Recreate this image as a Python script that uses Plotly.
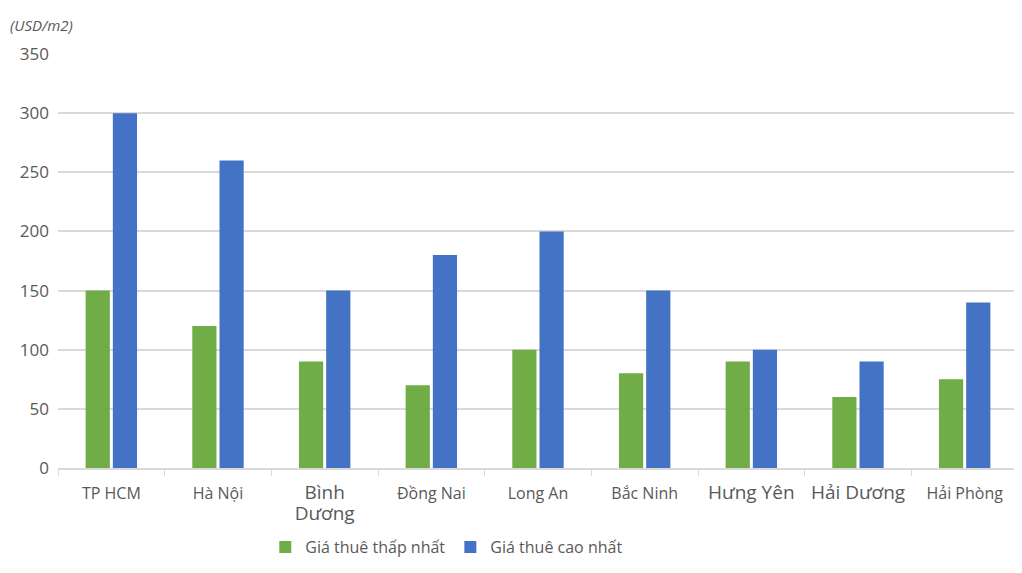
import plotly.graph_objects as go

# tinh/thanh pho va gia thue dat KCN
provinces = ['TP HCM', 'Hà Nội', 'Bình Dương', 'Đồng Nai', 'Long An',
             'Bắc Ninh', 'Hưng Yên', 'Hải Dương', 'Hải Phòng']
big = '<span style="font-size:19px">%s</span>'
tick_labels = ['TP HCM', 'Hà Nội',
               big % 'Bình' + '<br>' + big % 'Dương',
               'Đồng Nai', 'Long An', 'Bắc Ninh',
               big % 'Hưng Yên', big % 'Hải Dương',
               'Hải Phòng']
low_price = [150, 120, 90, 70, 100, 80, 90, 60, 75]
high_price = [300, 260, 150, 180, 200, 150, 100, 90, 140]

txt = '#595959'

fig = go.Figure()
fig.add_trace(go.Bar(x=provinces, y=low_price, name='Giá thuê thấp nhất',
                     marker_color='#70AD47', marker_line_width=0))
fig.add_trace(go.Bar(x=provinces, y=high_price, name='Giá thuê cao nhất',
                     marker_color='#4472C4', marker_line_width=0))

# page body has an 8px margin, so margins are shifted a bit
fig.update_layout(
    width=1022, height=573,
    margin=dict(l=50, r=12, t=46, b=113),
    paper_bgcolor='white', plot_bgcolor='white',
    font=dict(family='Open Sans, Noto Sans, sans-serif', color=txt, size=16),
    barmode='group', bargap=0.49, bargroupgap=0.11,
    showlegend=True,
    legend=dict(orientation='h', x=0.405, xanchor='center', y=-0.15, yanchor='top',
                font=dict(size=16, color=txt), itemwidth=30,
                traceorder='normal'),
)
fig.update_xaxes(tickmode='array', tickvals=provinces, ticktext=tick_labels,
                 showline=True, linecolor='#D9D9D9', linewidth=1.5,
                 ticks='outside', ticklen=6, tickcolor='#D9D9D9',
                 tickson='boundaries', tickangle=0, automargin=False,
                 ticklabelstandoff=10,
                 tickfont=dict(size=16, color=txt))
fig.update_yaxes(range=[0, 350], dtick=50, showgrid=True, gridcolor='#D9D9D9',
                 gridwidth=1.5, zeroline=False, showline=False, automargin=False,
                 tickfont=dict(size=17, color=txt), ticks='', ticklabelstandoff=8)

fig.add_annotation(text='<i>(USD/m2)</i>', xref='paper', yref='paper',
                   x=-0.052, y=1.0, yshift=17, xanchor='left', yanchor='bottom',
                   showarrow=False, font=dict(size=15, color=txt))

fig.write_html('out.html')
